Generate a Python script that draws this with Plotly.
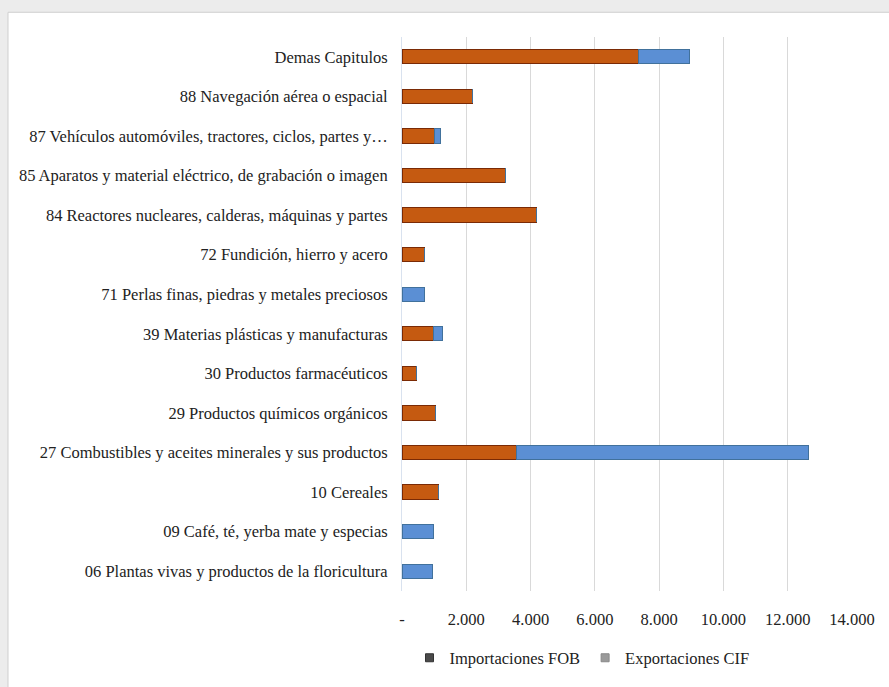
import plotly.graph_objects as go

categories = [
    "Demas Capitulos",
    "88 Navegación aérea o espacial",
    "87 Vehículos automóviles, tractores, ciclos, partes y…",
    "85 Aparatos y material eléctrico, de grabación o imagen",
    "84 Reactores nucleares, calderas, máquinas y partes",
    "72 Fundición, hierro y acero",
    "71 Perlas finas, piedras y metales preciosos",
    "39 Materias plásticas y manufacturas",
    "30 Productos farmacéuticos",
    "29 Productos químicos orgánicos",
    "27 Combustibles y aceites minerales y sus productos",
    "10 Cereales",
    "09 Café, té, yerba mate y especias",
    "06 Plantas vivas y productos de la floricultura",
]
importaciones_fob = [7350, 2190, 1005, 3225, 4170, 685, 0, 975, 465, 1035, 3565, 1120, 0, 0]
exportaciones_cif = [1590, 0, 200, 0, 0, 0, 685, 280, 0, 0, 9075, 0, 965, 935]

tick_vals = [0, 2000, 4000, 6000, 8000, 10000, 12000, 14000]
tick_text = ["-", "2.000", "4.000", "6.000", "8.000", "10.000", "12.000", "14.000"]

FONT = "Liberation Serif"
FS = 16.5

fig = go.Figure()
fig.add_trace(go.Bar(
    y=categories, x=importaciones_fob, orientation="h", name="Importaciones FOB",
    marker=dict(color="#C55A11", line=dict(color="#7A2A05", width=1)), showlegend=False,
))
fig.add_trace(go.Bar(
    y=categories, x=exportaciones_cif, orientation="h", name="Exportaciones CIF",
    marker=dict(color="#5B8FD4", line=dict(color="#41719C", width=1)), showlegend=False,
))
# legend entries (grey squares as in the reference)
fig.add_trace(go.Scatter(y=[None], x=[None], mode="markers", name="Importaciones FOB",
                         marker=dict(color="#4a4a4a", symbol="square", size=8,
                                     line=dict(color="#333333", width=1)), showlegend=True))
fig.add_trace(go.Scatter(y=[None], x=[None], mode="markers", name="Exportaciones CIF",
                         marker=dict(color="#9a9a9a", symbol="square", size=8,
                                     line=dict(color="#888888", width=1)), showlegend=True))

fig.update_layout(
    width=889, height=687,
    barmode="stack", bargap=0.64,
    paper_bgcolor="#ececec", plot_bgcolor="white",
    margin=dict(l=402, r=37, t=37, b=90),
    font=dict(family=FONT, size=FS, color="#222222"),
    xaxis=dict(range=[0, 14000], tickvals=tick_vals, ticktext=tick_text,
               showgrid=True, gridcolor="#d9d9d9", gridwidth=1, zeroline=False,
               showline=False, ticks="", ticklabelstandoff=16, automargin=False,
               tickfont=dict(family=FONT, size=FS, color="#222222")),
    yaxis=dict(categoryorder="array", categoryarray=categories, autorange="reversed",
               showgrid=False, showline=True, linecolor="#d9e2ef", ticks="",
               ticklabelstandoff=10, tickfont=dict(family=FONT, size=FS, color="#222222")),
    legend=dict(orientation="h", x=0.40, xanchor="center", y=-0.121, yanchor="middle",
                font=dict(family=FONT, size=FS, color="#222222"), bgcolor="rgba(0,0,0,0)",
                itemwidth=30, traceorder="normal"),
    shapes=[dict(type="rect", xref="paper", yref="paper",
                 x0=(8 - 402) / 450, x1=1 + 40 / 450, y0=-100 / 560, y1=1 + 25 / 560,
                 fillcolor="white", line=dict(color="#cfcfcf", width=1), layer="below")],
)
fig.write_html("out.html")
